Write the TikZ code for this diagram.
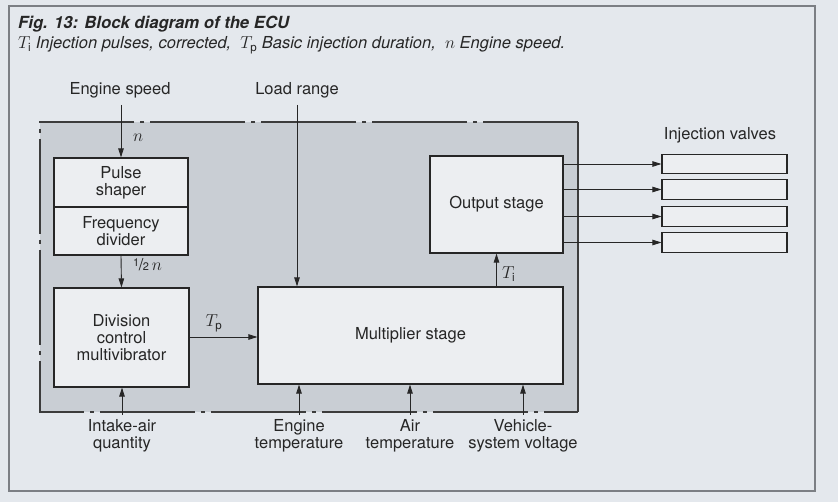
\documentclass[tikz,border=0pt]{standalone}
\usepackage{fontspec}
\setmainfont{TeX Gyre Heros}
\usetikzlibrary{arrows.meta}
\definecolor{bgc}{HTML}{E4E8ED}
\definecolor{ecuc}{HTML}{C9CED4}
\definecolor{boxc}{HTML}{ECEEF1}
\definecolor{inkc}{HTML}{262626}
\definecolor{framec}{HTML}{7C7F84}
\tikzset{
  lbl/.style={font=\fontsize{16.5}{17}\selectfont, text=inkc, inner sep=0pt, align=center},
  blk/.style={draw=inkc, line width=1.2pt, fill=boxc, inner sep=0pt, align=center,
              font=\fontsize{16.5}{17}\selectfont, text=inkc},
  valve/.style={draw=inkc, line width=1.1pt, fill=boxc, minimum width=125pt, minimum height=19.5pt, inner sep=0pt},
  arr/.style={draw=inkc, line width=0.9pt, -{Triangle[length=9pt,width=5.5pt]}},
  ecuedge/.style={draw=inkc!90, line width=1.3pt, dash pattern=on 95pt off 6pt on 4pt off 6pt},
}
\begin{document}
\begin{tikzpicture}[x=1pt,y=-1pt]
\useasboundingbox (0,0) rectangle (838,502);
\fill[bgc] (0,0) rectangle (838,502);
\draw[framec, line width=1.3pt] (9,6) rectangle (815,491);

% title
\node[lbl, anchor=base west, font=\fontsize{16.7}{17}\selectfont\bfseries\itshape] (title) at (18,29) {Fig. 13: Block diagram of the ECU};
\node[lbl, anchor=base west, font=\fontsize{16.5}{17}\selectfont\itshape] (legend) at (18,49)
  {$T_\mathrm{i}$ Injection pulses, corrected,\ \ $T_\mathrm{p}$ Basic injection duration,\ \ $n$ Engine speed.};

% ECU region
\fill[ecuc] (40,122) rectangle (578,412);
\draw[ecuedge] (578,122) -- (40,122) -- (40,412) -- (578,412);
\draw[inkc!90, line width=1.3pt] (578,122) -- (578,412);

% blocks
\node[blk, minimum width=134pt, minimum height=49pt] (ps) at (121,182.5) {Pulse\\shaper};
\node[blk, minimum width=134pt, minimum height=48pt] (fd) at (121,231) {Frequency\\divider};
\node[blk, minimum width=135pt, minimum height=99pt] (dm) at (121.5,337.5) {Division\\control\\multivibrator};
\node[blk, minimum width=305pt, minimum height=97pt] (ms) at (410.5,335.5) {Multiplier stage};
\node[blk, minimum width=133pt, minimum height=97pt] (os) at (496.5,204.5) {Output stage};

% injection valves
\node[lbl, anchor=base] (ivl) at (720,140) {Injection valves};
\node[valve] (v1) at (724.5,164) {};
\node[valve] (v2) at (724.5,189.5) {};
\node[valve] (v3) at (724.5,216.5) {};
\node[valve] (v4) at (724.5,242.5) {};
\foreach \v in {v1,v2,v3,v4} \draw[arr] (os.east |- \v.west) -- (\v.west);

% inputs on top
\node[lbl, anchor=base] (es) at (120,95) {Engine speed};
\node[lbl, anchor=base] (lr) at (297,95) {Load range};
\draw[arr] ([yshift=-6pt]es.south -| ps.north) -- (ps.north);
\node[lbl, anchor=base west] (nl) at (133,142) {$n$};
\draw[arr] ([yshift=-6pt]lr.south) -- (lr.south |- ms.north);

% internal connections
\draw[arr] (fd.south) -- (dm.north);
\node[lbl, anchor=base west] (half) at (133,271) {\raisebox{4pt}{\fontsize{11}{11}\selectfont 1}\kern-0.5pt/\kern-0.5pt{\fontsize{11}{11}\selectfont 2}\,$n$};
\coordinate (tpy) at (0,337);
\draw[arr] (dm.east |- tpy) -- (ms.west |- tpy);
\node[lbl, anchor=base] (tp) at (214,327) {$T_\mathrm{p}$};
\draw[arr] (ms.north -| os.south) -- (os.south);
\node[lbl, anchor=base west] (ti) at (502,279) {$T_\mathrm{i}$};

% inputs at bottom
\node[lbl, anchor=base] (ia) at (122,448) {Intake-air\\quantity};
\node[lbl, anchor=base] (et) at (299,448) {Engine\\temperature};
\node[lbl, anchor=base] (at) at (410,448) {Air\\temperature};
\node[lbl, anchor=base] (vs) at (523,448) {Vehicle-\\system voltage};
\draw[arr] ([yshift=4pt]ia.north) -- (ia.north |- dm.south);
\draw[arr] ([yshift=4pt]et.north) -- (et.north |- ms.south);
\draw[arr] ([yshift=4pt]at.north) -- (at.north |- ms.south);
\draw[arr] ([yshift=4pt]vs.north) -- (vs.north |- ms.south);
\end{tikzpicture}
\end{document}
